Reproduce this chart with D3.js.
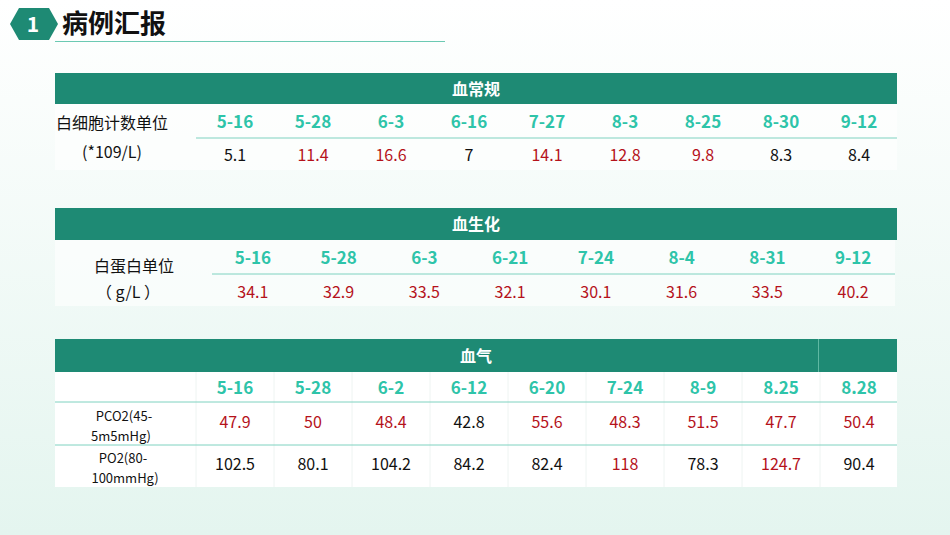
<!DOCTYPE html><html><head><meta charset="utf-8"><script src="https://cdn.jsdelivr.net/npm/d3@7"></script>
<style>body{margin:0;overflow:hidden}text{font-family:"Noto Sans CJK SC","Noto Sans",sans-serif}</style></head><body>
<script>
const wbcDates=["5-16","5-28","6-3","6-16","7-27","8-3","8-25","8-30","9-12"];
const wbcVals=[5.1,11.4,16.6,7,14.1,12.8,9.8,8.3,8.4];
const wbcHigh=[0,1,1,0,1,1,1,0,0];
const albDates=["5-16","5-28","6-3","6-21","7-24","8-4","8-31","9-12"];
const albVals=[34.1,32.9,33.5,32.1,30.1,31.6,33.5,40.2];
const albHigh=[1,1,1,1,1,1,1,1];
const gasDates=["5-16","5-28","6-2","6-12","6-20","7-24","8-9","8.25","8.28"];
const pco2=[47.9,50,48.4,42.8,55.6,48.3,51.5,47.7,50.4];
const pco2High=[1,1,1,0,1,1,1,1,1];
const po2=[102.5,80.1,104.2,84.2,82.4,118,78.3,124.7,90.4];
const po2High=[0,0,0,0,0,1,0,1,0];

const W=950,H=535,G="#1e8a74",T="#2ec4a9",R="#b5121b",K="#111";
const svg=d3.select("body").append("svg").attr("width",W).attr("height",H);
const lg=svg.append("defs").append("linearGradient").attr("id","bg").attr("x1",0).attr("y1",0).attr("x2",0).attr("y2",1);
lg.append("stop").attr("offset",0).attr("stop-color","#ffffff");
lg.append("stop").attr("offset",1).attr("stop-color","#e4f5ef");
svg.append("rect").attr("width",W).attr("height",H).attr("fill","url(#bg)");
// title
svg.append("path").attr("d","M10,24 L19,8 L49,8 L58,24 L49,40 L19,40 Z").attr("fill",G);
svg.append("text").attr("x",33).attr("y",32).attr("text-anchor","middle").attr("fill","#fff").attr("font-size",21).attr("font-weight","bold").text("1");
svg.append("text").attr("x",62).attr("y",33).attr("font-size",26).attr("font-weight","bold").attr("fill","#111").text("病例汇报");
svg.append("line").attr("x1",55).attr("x2",445).attr("y1",41.5).attr("y2",41.5).attr("stroke","#6cc9b3").attr("stroke-width",1);

function txt(x,y,s,col,size,bold){return svg.append("text").attr("x",x).attr("y",y).attr("text-anchor","middle").attr("fill",col).attr("font-size",size).attr("font-weight",bold?"bold":"normal").text(s);}
function header(y,h,s){svg.append("rect").attr("x",55).attr("y",y).attr("width",842).attr("height",h).attr("fill",G);
  txt(476,y+h/2+6,s,"#fff",16,true);}

// Table 1
header(73,31,"血常规");
const x1=d3.scaleBand().domain(d3.range(wbcDates.length)).range([196,898]);
svg.append("rect").attr("x",55).attr("y",104).attr("width",842).attr("height",66).attr("fill","#fff").attr("opacity",0.6);
svg.append("line").attr("x1",196).attr("x2",897).attr("y1",138).attr("y2",138).attr("stroke","#7fd2c0");
wbcDates.forEach((d,i)=>txt(x1(i)+x1.bandwidth()/2,128,d,T,17,true));
wbcVals.forEach((v,i)=>txt(x1(i)+x1.bandwidth()/2,161,v,wbcHigh[i]?R:K,16));
txt(112,129,"白细胞计数单位",K,16);txt(112,158,"(*109/L)",K,16);

// Table 2
header(208,32,"血生化");
const x2=d3.scaleBand().domain(d3.range(albDates.length)).range([210,896]);
svg.append("rect").attr("x",55).attr("y",240).attr("width",840).attr("height",66).attr("fill","#fff").attr("opacity",0.6);
svg.append("line").attr("x1",212).attr("x2",895).attr("y1",274).attr("y2",274).attr("stroke","#7fd2c0");
albDates.forEach((d,i)=>txt(x2(i)+x2.bandwidth()/2,264,d,T,17,true));
albVals.forEach((v,i)=>txt(x2(i)+x2.bandwidth()/2,298,v,albHigh[i]?R:K,16));
txt(134,272,"白蛋白单位",K,16);txt(128,298,"（ g/L ）",K,16);

// Table 3
header(339,33,"血气");
svg.append("line").attr("x1",818.5).attr("x2",818.5).attr("y1",339).attr("y2",372).attr("stroke","#5fb8a3");
svg.append("rect").attr("x",55).attr("y",372).attr("width",842).attr("height",115).attr("fill","#fff");
const x3=d3.scaleBand().domain(d3.range(gasDates.length)).range([196,898]);
d3.range(gasDates.length).forEach(i=>svg.append("line").attr("x1",x3(i)).attr("x2",x3(i)).attr("y1",372).attr("y2",487).attr("stroke","#eef4f2"));
svg.append("line").attr("x1",55).attr("x2",897).attr("y1",402).attr("y2",402).attr("stroke","#7fd2c0");
svg.append("line").attr("x1",55).attr("x2",897).attr("y1",445).attr("y2",445).attr("stroke","#7fd2c0");
gasDates.forEach((d,i)=>txt(x3(i)+x3.bandwidth()/2,394,d,T,17,true));
pco2.forEach((v,i)=>txt(x3(i)+x3.bandwidth()/2,428,v,pco2High[i]?R:K,16));
po2.forEach((v,i)=>txt(x3(i)+x3.bandwidth()/2,470,v,po2High[i]?R:K,16));
txt(124,421,"PCO2(45-",K,13);txt(121,441,"5m5mHg)",K,13);
txt(123,463,"PO2(80-",K,13);txt(125,483,"100mmHg)",K,13);
</script></body></html>
